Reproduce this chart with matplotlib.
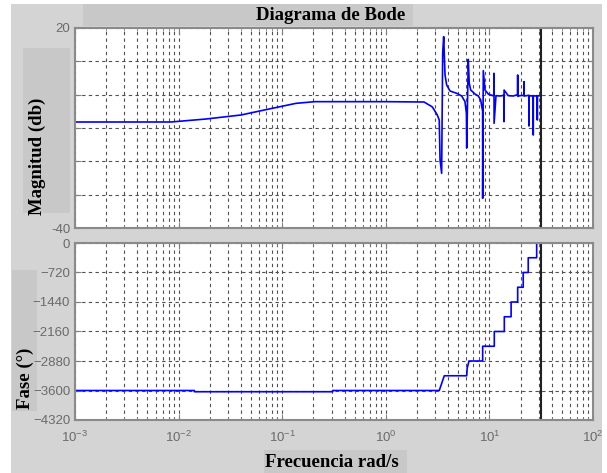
import numpy as np
import matplotlib.pyplot as plt
import matplotlib.patches as mpatches
from matplotlib.ticker import LogLocator, NullFormatter

plt.rcParams['mathtext.fontset'] = 'custom'
plt.rcParams['mathtext.rm'] = 'Liberation Sans'
plt.rcParams['mathtext.it'] = 'Liberation Sans:italic'

W, H = 607, 473

# Magnitude curve (rad/s, dB)
w_mag = [0.001, 0.00845, 0.0184, 0.040, 0.080, 0.136, 0.207, 1.0, 2.34, 2.79,
         2.87, 3.14, 3.28, 3.34, 3.46, 3.54, 3.62, 3.73, 3.87, 4.17, 4.84,
         5.40, 5.81, 6.00, 6.04, 6.25, 6.39, 6.60, 7.26, 7.81, 8.24, 8.60,
         8.61, 8.73, 9.07, 9.75, 10.76, 11.05, 11.07, 11.10, 11.58, 12.66,
         13.80, 13.83, 13.86, 15.2, 17.0, 18.70, 18.75, 18.80, 19.7, 21.55,
         21.6, 21.65, 22.9, 24.05, 24.1, 24.15, 25.2, 26.45, 26.5, 26.55,
         27.7, 28.95, 29.0, 29.05, 30.3, 31.0]
mag_db = [-8.2, -8.2, -7.3, -6.1, -4.1, -2.6, -2.1, -2.1, -2.2, -3.6,
          -4.1, -6.1, -7.6, -19.6, -23.6, 12.4, 17.4, 5.9, 2.9, 1.1, 0.4,
          -0.4, -2.1, -5.6, -16.0, 10.6, 3.4, 1.4, 0.2, -0.4, -1.6, -5.0,
          -31.1, 7.2, 1.4, 0.2, -0.3, 0.0, 6.4, -8.6, -0.3, -0.4,
          -0.2, -8.1, 1.4, -0.3, -0.4, 0.0, 5.9, -0.5, -0.3, -0.2,
          3.9, -0.4, -0.3, -0.2, -9.4, -0.3, -0.4, -0.3, -12.1, -0.3,
          -0.4, -0.3, -7.6, -0.4, -0.3, -0.4]

# Phase curve (rad/s, degrees)
w_ph = [0.001, 0.0142, 0.0142, 0.307, 0.307, 3.28, 3.67, 6.04, 6.10, 6.35,
        8.61, 8.61, 11.15, 11.15, 13.93, 13.93, 16.2, 16.2, 18.75, 18.75,
        21.2, 21.2, 23.7, 23.7, 28.6, 28.6, 31.0]
phase = [-3600, -3600, -3630, -3630, -3600, -3600, -3240, -3240, -3060, -2880,
         -2880, -2520, -2520, -2160, -2160, -1800, -1800, -1440, -1440, -1080,
         -1080, -720, -720, -360, -360, 0, 0]

w_nyq = 10 * np.pi
mag_ticks = [-40, -30, -20, -10, 0, 10, 20]
mag_labels = ['-40', '', '', '', '', '', '20']
ph_ticks = [-4320, -3600, -2880, -2160, -1440, -720, 0]


def px(x0, y0, x1, y1):
    # pixel box (top-left origin) -> figure fraction [l, b, w, h]
    return [x0 / W, 1 - y1 / H, (x1 - x0) / W, (y1 - y0) / H]


fig = plt.figure(figsize=(W / 100, H / 100), dpi=100, facecolor='white')

# grey window panels
for box, col in [((11, 4, 602, 473), '#d4d4d4'),
                 ((83, 4, 413, 26), '#c8c8c8'),
                 ((23, 48, 70, 213), '#c8c8c8'),
                 ((12, 270, 37, 411), '#c8c8c8'),
                 ((264, 450, 407, 473), '#c8c8c8')]:
    l, b, w, h = px(*box)
    fig.patches.append(mpatches.Rectangle((l, b), w, h, transform=fig.transFigure,
                                          facecolor=col, edgecolor='none', zorder=-10))

ax1 = fig.add_axes(px(75, 28, 593, 228), zorder=1)
ax2 = fig.add_axes(px(75, 243, 593, 420), zorder=1)

ax1.semilogx(w_mag, mag_db, color='#0000ff', lw=1.2)
ax2.semilogx(w_ph, phase, color='#0000ff', lw=1.2)

for ax in (ax1, ax2):
    ax.set_xlim(1e-3, 1e2)
    ax.set_facecolor('white')
    ax.axvline(w_nyq, color='#202020', lw=1.5)
    ax.xaxis.set_major_locator(LogLocator(base=10, numticks=10))
    ax.xaxis.set_minor_locator(LogLocator(base=10, subs=np.arange(2, 10), numticks=20))
    ax.xaxis.set_minor_formatter(NullFormatter())
    ax.grid(True, which='major', color='#505050', lw=0.8, ls=(0, (3, 3)))
    ax.grid(True, which='minor', axis='x', color='#505050', lw=0.8, ls=(0, (3, 3)))
    ax.tick_params(which='both', direction='in', top=True, right=True,
                   colors='#808080', labelcolor='#6a6a6a', labelsize=9.5,
                   labelfontfamily='Liberation Sans')
    ax.tick_params(which='major', length=4)
    ax.tick_params(which='minor', length=2)
    ax.tick_params(axis='x', pad=7)
    for s in ax.spines.values():
        s.set_color('#8a8a8a')
        s.set_linewidth(1.5)

ax1.set_ylim(-40, 20)
ax1.set_yticks(mag_ticks)
ax1.set_yticklabels(mag_labels)
ax1.tick_params(axis='x', labelbottom=False)

ax2.set_ylim(-4320, 0)
ax2.set_yticks(ph_ticks)

serif = dict(family='Liberation Serif', weight='bold', color='black')
fig.text(331 / W, 1 - 15 / H, 'Diagrama de Bode', ha='center', va='center',
         fontsize=13.5, **serif)
fig.text(37 / W, 1 - 156 / H, 'Magnitud (db)', ha='center', va='center',
         rotation=90, fontsize=13.5, **serif)
fig.text(25 / W, 1 - 378 / H, 'Fase (°)', ha='center', va='center',
         rotation=90, fontsize=13.5, **serif)
fig.text(332 / W, 1 - 462 / H, 'Frecuencia rad/s', ha='center', va='center',
         fontsize=13.5, **serif)

plt.savefig('out.png', dpi=100, facecolor='white')
